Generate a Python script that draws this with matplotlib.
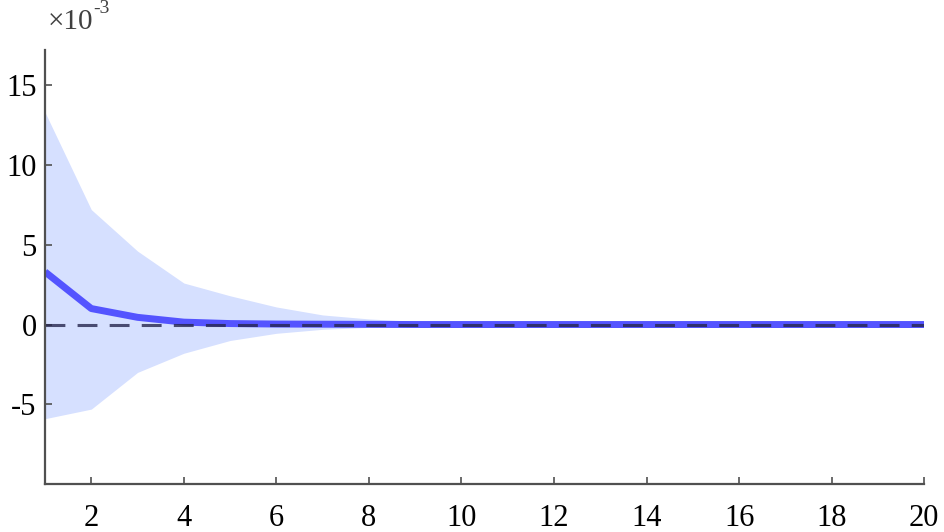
import numpy as np
import matplotlib
matplotlib.use("Agg")
import matplotlib.pyplot as plt

# impulse response (units of 1e-3), horizons 1..20
horizon = list(range(1, 21))
median = [3.3, 1.0, 0.45, 0.15, 0.06, 0.03, 0.02, 0.01, 0.0, 0.0,
          0.0, 0.0, 0.0, 0.0, 0.0, 0.0, 0.0, 0.0, 0.0, 0.0]
upper = [13.3, 7.2, 4.6, 2.6, 1.8, 1.1, 0.6, 0.35, 0.2, 0.12,
         0.08, 0.05, 0.04, 0.03, 0.02, 0.02, 0.01, 0.01, 0.01, 0.01]
lower = [-5.9, -5.3, -3.0, -1.8, -1.0, -0.55, -0.3, -0.18, -0.1, -0.06,
         -0.04, -0.03, -0.02, -0.01, -0.01, -0.01, -0.01, -0.01, -0.01, -0.01]

xticks = list(range(2, 21, 2))
yticks = [-5, 0, 5, 10, 15]

plt.rcParams['font.family'] = ['Liberation Serif', 'DejaVu Serif']
plt.rcParams['axes.unicode_minus'] = False

fig = plt.figure(figsize=(9.44, 5.32), dpi=100)
ax = fig.add_axes([0.0477, 0.090, 0.9313, 0.816])

x = np.array(horizon)
ax.fill_between(x, lower, upper, color=(0.84, 0.88, 1.0), linewidth=0)
ax.plot(x, median, color=(0.33, 0.33, 1.0), linewidth=5, solid_capstyle='butt')
# zero line
ax.plot([1, 20], [0, 0], color=(0.15, 0.15, 0.3), linewidth=2.2, dashes=(6.5, 4), alpha=0.8)

ax.set_xlim(1, 20)
ax.set_ylim(-10, 17.2)
ax.set_xticks(xticks)
ax.set_yticks(yticks)
ax.set_yticklabels([str(t) for t in yticks])

for s in ['top', 'right']:
    ax.spines[s].set_visible(False)
for s in ['left', 'bottom']:
    ax.spines[s].set_color('#505050')
    ax.spines[s].set_linewidth(1.6)

ax.tick_params(direction='in', length=5, width=1.2, colors='#505050',
               labelcolor='black', labelsize=22)
ax.tick_params(axis='x', pad=14)
ax.tick_params(axis='y', pad=6)

# exponent label
ax.text(0.003, 1.035, '\u00d710', transform=ax.transAxes,
        fontsize=21, ha='left', va='bottom', color='#404040')
ax.text(0.055, 1.075, '-3', transform=ax.transAxes, fontsize=14,
        ha='left', va='bottom', color='#404040')

fig.savefig('out.png', dpi=100)
